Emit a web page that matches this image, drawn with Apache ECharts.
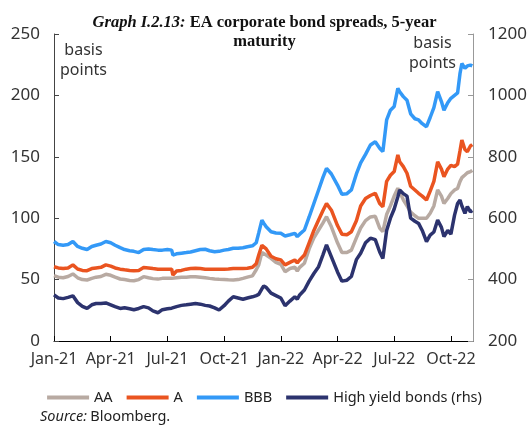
<!DOCTYPE html>
<html>
<head>
<meta charset="utf-8">
<script src="https://cdn.jsdelivr.net/npm/echarts@6/dist/echarts.min.js"></script>
<style>html,body{margin:0;padding:0;background:#fff}#c{width:529px;height:428px}</style>
</head>
<body>
<div id="c"></div>
<script>
const dates = [
'2021-01-01','2021-01-08','2021-01-16','2021-01-24','2021-02-01','2021-02-08','2021-02-15','2021-02-22',
'2021-03-01','2021-03-08','2021-03-16','2021-03-24','2021-04-01','2021-04-08','2021-04-16','2021-04-23',
'2021-05-01','2021-05-08','2021-05-16','2021-05-24','2021-06-01','2021-06-08','2021-06-16','2021-06-23',
'2021-07-01','2021-07-08','2021-07-10','2021-07-16','2021-07-24','2021-08-01','2021-08-08','2021-08-16',
'2021-08-24','2021-09-01','2021-09-08','2021-09-16','2021-09-23','2021-10-01','2021-10-08','2021-10-16',
'2021-10-24','2021-11-01','2021-11-08','2021-11-16','2021-11-22','2021-11-26','2021-12-01','2021-12-04',
'2021-12-08','2021-12-16','2021-12-24','2022-01-01','2022-01-08','2022-01-16','2022-01-24','2022-01-28',
'2022-02-01','2022-02-08','2022-02-15','2022-02-22','2022-03-01','2022-03-08','2022-03-14','2022-03-22',
'2022-04-01','2022-04-08','2022-04-16','2022-04-23','2022-05-01','2022-05-08','2022-05-16','2022-05-24',
'2022-06-01','2022-06-08','2022-06-13','2022-06-19','2022-06-25','2022-07-01','2022-07-07','2022-07-10',
'2022-07-16','2022-07-22','2022-07-28','2022-08-04','2022-08-10','2022-08-16','2022-08-23','2022-08-29',
'2022-09-04','2022-09-10','2022-09-16','2022-09-20','2022-09-26','2022-10-01','2022-10-07','2022-10-12',
'2022-10-16','2022-10-19','2022-10-24','2022-10-28','2022-11-02','2022-11-05'
];
const bbb = [
81,78.5,78,78.5,81,77,75.5,74.5,77,78,79,81,80,78,76,74.5,73.5,73,72,74.5,75,74.5,74,
74,74.5,74,70,71,71.5,72,72.5,73.5,74.5,74.7,73.5,72.7,73,74,74.5,75.5,75.5,76,76.8,77.5,80,88,98.5,96,93,89,88,
87.7,85.5,86.5,87.7,85,87,90.4,101,112,123,133,140.6,136,127,119.5,120,123,136,145,152,159.6,162.3,157,154.2,180,188,
191,205.8,203,199,196,185,181,180,177,174.5,182,190,203,195,188,194,197.6,200,202,218,226,222,224,224.7,224
];
const aRated = [
60.5,59.5,59,59.5,62,58.6,57.5,57.3,59,59.5,60,62,61,59.5,58.5,58,57.5,57.3,57.5,59.8,59.5,59,58.5,
58.4,58.5,58.5,53.7,57,57.5,58.5,59,59.2,59,58.5,58.4,58.5,58.5,58.5,58.6,59,59,59,59.2,60,63,70,78,79.5,75,69,67,
66,62,64,66,63.5,66,70,80,90,98.5,106,112,106.5,94,87,86.5,89,98,110,116,118.5,120.3,112,109.4,130,135,
138,151.5,146,142,136.6,126,123,120.3,118,114.8,122,130,146,140,133.8,140,143,142,144,155,163.7,156,154.2,158.8,160
];
const aa = [
53.2,52,51.5,52.5,54.6,51.5,50,49.7,51,52,52.5,54.3,53.5,52,50.5,50,49.3,49.1,50,52.4,51.5,50.8,50.4,
51,51,51,50.5,51.5,52,52,52.4,52.4,52,51.5,51,50.5,50.2,50,49.8,49.7,50,51,52,53,58,62,72,72.7,70,67.3,64,
62.5,56.4,59,60,57,60,63.3,75,84,90.4,96,101.2,93,80,72,72,74,84,92,98,101,101.5,92,89,103,110,
118,124.3,123,115,110,105,102,99.9,100,100,104,110,123,118,112,116,120,123,124.3,130,133,135.2,137,137.9,139
];
const highYield = [
350,340,338,342,347,325,313,306,318,322,322,324,318,312,306,308,305,302,306,312,308,298,292,
302,305,307,306,312,316,318,320,322,320,316,314,308,301,315,330,344,340,336,340,344,348,352,370,379,375,356,348,
340,315,330,344,336,350,366,395,420,442,480,513,474,425,395,398,410,465,486,520,535,530,490,469,560,600,
630,670,692,680,672,600,590,583,560,524,545,555,594,570,540,560,548,610,648,659,640,616,638,621,625
];
const xTickLabels = ['Jan-21','Apr-21','Jul-21','Oct-21','Jan-22','Apr-22','Jul-22','Oct-22'];
const leftTicks = [0,50,100,150,200,250];
const rightTicks = [200,400,600,800,1000,1200];
const seriesNames = ['AA','A','BBB','High yield bonds (rhs)'];

function monthPos(d){
  const p = d.split('-').map(Number);
  const dim = new Date(p[0], p[1], 0).getDate();
  return (p[0]-2021)*12 + (p[1]-1) + (p[2]-1)/dim;
}
const xs = dates.map(monthPos);
const pairs = arr => arr.map((v,i)=>[xs[i], v]);

const FONT = 'Noto Sans';
const colors = ['#b8aaa2','#ea5420','#3399f7','#2c336e'];
const chart = echarts.init(document.getElementById('c'));
chart.setOption({
  animation: false,
  textStyle: {fontFamily: FONT},
  title: {
    left: 'center', top: 8,
    text: '{i|Graph I.2.13: }{b|EA corporate bond spreads, 5-year}\n{b|maturity}',
    textStyle: {
      rich: {
        i: {fontFamily: 'Liberation Serif', fontStyle: 'italic', fontSize: 16.5, color: '#111', lineHeight: 19},
        b: {fontFamily: 'Liberation Serif', fontWeight: 'bold', fontSize: 16.5, color: '#111', lineHeight: 19}
      }
    }
  },
  grid: {left: 54, right: 56, top: 34, bottom: 87, containLabel: false, outerBoundsMode: 'none'},
  legend: {
    top: 385, left: 'center', itemWidth: 42, itemHeight: 4, itemGap: 14, icon: 'rect',
    textStyle: {fontFamily: FONT, fontSize: 14.5, color: '#222'},
    data: seriesNames
  },
  xAxis: {
    type: 'value', min: 0, max: 22.17, interval: 3,
    splitLine: {show: false},
    axisLine: {lineStyle: {color: '#000', width: 1}},
    axisTick: {inside: true, length: 5, lineStyle: {color: '#000'}},
    axisLabel: {
      fontFamily: FONT, fontSize: 16, color: '#333', margin: 10, showMaxLabel: false,
      formatter: v => { const k = v/3; return Math.abs(k-Math.round(k))<1e-6 ? (xTickLabels[Math.round(k)]||'') : ''; }
    }
  },
  yAxis: [
    {
      type: 'value', min: leftTicks[0], max: leftTicks[leftTicks.length-1], interval: 50,
      splitLine: {show: false},
      axisLine: {show: true, lineStyle: {color: '#444'}},
      axisTick: {show: true, inside: true, length: 5, lineStyle: {color: '#444'}},
      axisLabel: {fontFamily: FONT, fontSize: 17, color: '#333', margin: 14, formatter: v => String(v)}
    },
    {
      type: 'value', min: rightTicks[0], max: rightTicks[rightTicks.length-1], interval: 200, position: 'right',
      splitLine: {show: false},
      axisLine: {show: true, lineStyle: {color: '#999'}},
      axisTick: {show: true, inside: true, length: 5, lineStyle: {color: '#999'}},
      axisLabel: {fontFamily: FONT, fontSize: 17, color: '#333', margin: 15, formatter: v => String(v)}
    }
  ],
  graphic: [
    {type: 'text', left: 60, top: 40, style: {text: 'basis\npoints', font: '16px "Noto Sans"', fill: '#333', lineHeight: 20, textAlign: 'center'}},
    {type: 'text', left: 409, top: 33, style: {text: 'basis\npoints', font: '16px "Noto Sans"', fill: '#333', lineHeight: 20, textAlign: 'center'}},
    {type: 'text', left: 40, top: 409, style: {
      text: '{i|Source:} {n|Bloomberg.}',
      rich: {i: {fontFamily: FONT, fontStyle: 'italic', fontSize: 14.5, fill: '#222'}, n: {fontFamily: FONT, fontSize: 14.5, fill: '#222'}}
    }}
  ],
  series: [
    {name: seriesNames[0], type: 'line', yAxisIndex: 0, data: pairs(aa), showSymbol: false, symbol: 'none', lineStyle: {width: 3.5, color: colors[0]}, itemStyle: {color: colors[0]}},
    {name: seriesNames[1], type: 'line', yAxisIndex: 0, data: pairs(aRated), showSymbol: false, symbol: 'none', lineStyle: {width: 3.5, color: colors[1]}, itemStyle: {color: colors[1]}},
    {name: seriesNames[2], type: 'line', yAxisIndex: 0, data: pairs(bbb), showSymbol: false, symbol: 'none', lineStyle: {width: 3.5, color: colors[2]}, itemStyle: {color: colors[2]}},
    {name: seriesNames[3], type: 'line', yAxisIndex: 1, data: pairs(highYield), showSymbol: false, symbol: 'none', lineStyle: {width: 3.5, color: colors[3]}, itemStyle: {color: colors[3]}}
  ]
});
</script>
</body>
</html>
